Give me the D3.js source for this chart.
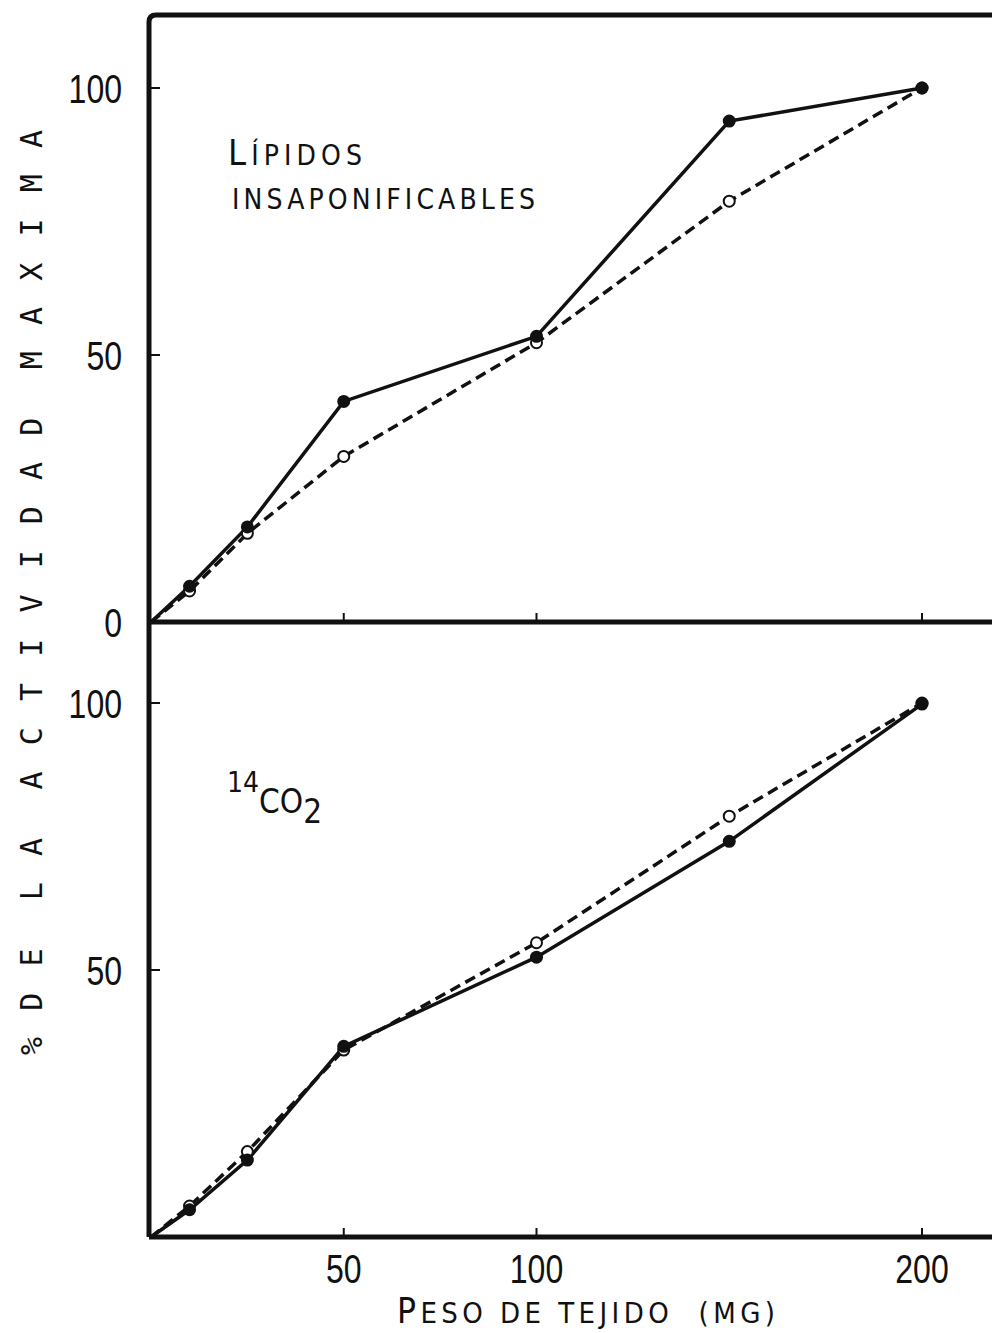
<!DOCTYPE html>
<html>
<head>
<meta charset="utf-8">
<script src="https://cdn.jsdelivr.net/npm/d3@7"></script>
<style>
  body { margin: 0; background: #fff; }
  svg { display: block; }
</style>
</head>
<body>
<svg id="chart" width="992" height="1333"></svg>
<script>
// tissue weight (mg) at each measurement
const pesos = [10, 25, 50, 100, 150, 200];

// top panel: unsaponifiable lipids
const lipidosLleno = [6.7, 17.8, 41.3, 53.5, 93.8, 100];
const lipidosAbierto = [5.8, 16.6, 31.0, 52.3, 78.8, 100];

// bottom panel: 14CO2
const co2Lleno = [5.1, 14.4, 35.7, 52.4, 74.1, 99.8];
const co2Abierto = [5.8, 16.0, 35.0, 55.1, 78.8, 100];

const xTicks = [50, 100, 200];
const yTicks = [0, 50, 100];

const svg = d3.select("#chart");
const ink = "#111";
const numFont = "Liberation Sans, Arial, sans-serif";
const labelFont = "DejaVu Sans Condensed, sans-serif";

const x = d3.scaleLinear().domain([0, 200]).range([151, 922]);
const yTop = d3.scaleLinear().domain([0, 100]).range([622, 88]);
const yBot = d3.scaleLinear().domain([0, 100]).range([1237, 703]);

// frame (top panel's box plus shared left spine)
svg.append("path")
  .attr("d", "M149,1237 L149,22 Q149,15 156,15 L992,15")
  .attr("fill", "none").attr("stroke", ink).attr("stroke-width", 5);
svg.append("line").attr("x1", 149).attr("x2", 992).attr("y1", 622).attr("y2", 622)
  .attr("stroke", ink).attr("stroke-width", 5);
svg.append("line").attr("x1", 149).attr("x2", 992).attr("y1", 1237).attr("y2", 1237)
  .attr("stroke", ink).attr("stroke-width", 5);

// narrow numbers, like the condensed type of the original
function numLabel(g, px, py, anchor) {
  return g.attr("transform", `translate(${px},${py}) scale(0.8,1)`)
    .attr("text-anchor", anchor)
    .attr("font-family", numFont)
    .attr("font-size", 40).attr("fill", ink);
}

function drawPanel(y, lleno, abierto, showZero) {
  // inner ticks on x
  svg.append("g").selectAll("line").data(xTicks).join("line")
    .attr("x1", d => x(d)).attr("x2", d => x(d))
    .attr("y1", y(0)).attr("y2", y(0) - 9)
    .attr("stroke", ink).attr("stroke-width", 2);
  // inner ticks on y
  svg.append("g").selectAll("line").data([50, 100]).join("line")
    .attr("x1", 149).attr("x2", 160)
    .attr("y1", d => y(d)).attr("y2", d => y(d))
    .attr("stroke", ink).attr("stroke-width", 2);

  // y tick labels
  svg.append("g").selectAll("text").data(yTicks.filter(d => showZero || d > 0)).join("text")
    .each(function(d) { numLabel(d3.select(this), 122, y(d) + 15, "end"); })
    .text(d => d);

  const pts = v => [[0, 0]].concat(pesos.map((p, i) => [p, v[i]]));
  const line = d3.line().x(d => x(d[0])).y(d => y(d[1]));

  svg.append("path").datum(pts(abierto))
    .attr("d", line).attr("fill", "none")
    .attr("stroke", ink).attr("stroke-width", 3.5)
    .attr("stroke-dasharray", "11,6");
  svg.append("path").datum(pts(lleno))
    .attr("d", line).attr("fill", "none")
    .attr("stroke", ink).attr("stroke-width", 3.5);

  svg.append("g").selectAll("circle").data(pesos).join("circle")
    .attr("cx", d => x(d)).attr("cy", (d, i) => y(abierto[i]))
    .attr("r", 5.5).attr("fill", "#fff")
    .attr("stroke", ink).attr("stroke-width", 2);
  svg.append("g").selectAll("circle").data(pesos).join("circle")
    .attr("cx", d => x(d)).attr("cy", (d, i) => y(lleno[i]))
    .attr("r", 6.5).attr("fill", ink);
}

drawPanel(yTop, lipidosLleno, lipidosAbierto, true);
drawPanel(yBot, co2Lleno, co2Abierto, false);

// x tick labels
svg.append("g").selectAll("text").data(xTicks).join("text")
  .each(function(d) { numLabel(d3.select(this), x(d), 1283, "middle"); })
  .text(d => d);

// x axis title with small caps look
const xt = svg.append("text")
  .attr("x", 397).attr("y", 1323)
  .attr("font-family", labelFont).attr("fill", ink)
  .attr("xml:space", "preserve")
  .attr("textLength", 378).attr("lengthAdjust", "spacing");
xt.append("tspan").attr("font-size", 35).text("P");
xt.append("tspan").attr("font-size", 29).text("ESO DE TEJIDO  (MG)");

// panel labels
const t1 = svg.append("text")
  .attr("x", 228).attr("y", 165)
  .attr("font-family", labelFont).attr("fill", ink)
  .attr("textLength", 134).attr("lengthAdjust", "spacing");
t1.append("tspan").attr("font-size", 36).text("L");
t1.append("tspan").attr("font-size", 28).text("ÍPIDOS");
svg.append("text")
  .attr("x", 232).attr("y", 209)
  .attr("font-family", labelFont).attr("font-size", 28).attr("fill", ink)
  .attr("textLength", 303).attr("lengthAdjust", "spacing")
  .text("INSAPONIFICABLES");

const t2 = svg.append("text")
  .attr("x", 227).attr("y", 813)
  .attr("font-family", labelFont).attr("fill", ink);
t2.append("tspan").attr("font-size", 28).attr("dy", -21).text("14");
t2.append("tspan").attr("font-size", 33).attr("dy", 21).text("CO");
t2.append("tspan").attr("font-size", 33).attr("dy", 10).text("2");

// y axis title, widely spaced typewriter letters
svg.append("text")
  .attr("transform", "translate(42,1055) rotate(-90)")
  .attr("font-family", "DejaVu Sans Mono, monospace")
  .attr("font-size", 30).attr("fill", ink)
  .attr("textLength", 925).attr("lengthAdjust", "spacing")
  .attr("xml:space", "preserve")
  .text("% D E  L A  A C T I V I D A D  M A X I M A");
</script>
</body>
</html>
